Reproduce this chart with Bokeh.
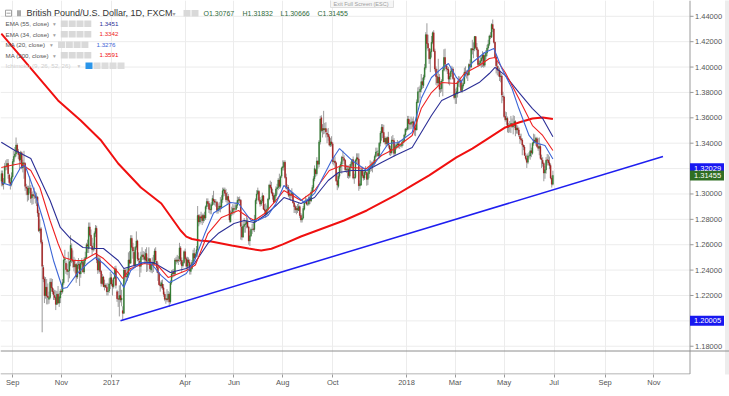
import numpy as np
from bokeh.plotting import figure
from bokeh.models import Range1d, FixedTicker, Span, ColumnDataSource
from bokeh.core.properties import value
from bokeh.embed import file_html
from bokeh.resources import INLINE

# ---------------- daily GBP/USD candles (price x 10000), 18 Aug 2016 .. 29 Jun 2018 ----------------
open_pips = [
    13100, 13160, 13075, 13087, 13220, 13215, 13240, 13150, 13090, 13075,
    13135, 13255, 13295, 13315, 13385, 13335, 13310, 13270, 13325, 13205, 13245, 13240, 13055, 13045, 12995, 13045, 13045, 12970, 12995, 12985, 12985, 12970,
    12975, 12850, 12710, 12725, 12620, 12420, 12330, 12200, 12265, 12195, 12170, 12185, 12305, 12260, 12230, 12200, 12185, 12130, 12210, 12140, 12180,
    12235, 12230, 12300, 12480, 12455, 12405, 12390, 12395, 12465, 12570, 12480, 12470, 12425, 12445, 12345, 12440, 12445, 12370, 12455, 12460, 12385, 12475,
    12500, 12600, 12570, 12740, 12675, 12590, 12560, 12575, 12690, 12730, 12480, 12400, 12480, 12390, 12295, 12345, 12270, 12280, 12265, 12230, 12235, 12290,
    12340, 12290, 12270, 12335, 12410, 12230, 12175, 12170, 12200, 12165, 12080, 12060, 12400, 12350, 12345, 12360, 12480, 12455, 12650, 12580, 12540, 12435,
    12580, 12630, 12490, 12470, 12430, 12505, 12520, 12505, 12480, 12530, 12470, 12470, 12490, 12400, 12445, 12455, 12450, 12550, 12470, 12420,
    12380, 12285, 12275, 12290, 12260, 12210, 12170, 12175, 12170, 12210, 12150, 12300, 12370, 12385, 12370, 12480, 12470, 12480, 12490, 12575, 12475, 12435, 12460,
    12545, 12490, 12430, 12480, 12460, 12390, 12410, 12460, 12530, 12495, 12525, 12560, 12830, 12780, 12820, 12830, 12790, 12830, 12810, 12900,
    12940, 12925, 12880, 12875, 12915, 12960, 12945, 12935, 12935, 12870, 12880, 12905, 12895, 12955, 13025, 13030, 13005, 12955, 12980, 12945, 12780, 12845, 12855,
    12885, 12880, 12880, 12910, 12950, 12955, 12950, 12740, 12660, 12745, 12760, 12765, 12780, 12740, 12630, 12670, 12720, 12725, 12720, 12800, 12950, 13000,
    13020, 12950, 12920, 12945, 12985, 12880, 12870, 12840, 12880, 12960, 13070, 13050, 13010, 12985, 12935, 12985, 13040, 13050, 13110, 13060, 13140,
    13205, 13215, 13250, 13130, 13040, 13050, 12990, 12995, 12990, 13005, 12930, 12900, 12875, 12885, 12870, 12900, 12830, 12795, 12810, 12880, 12935, 12945, 12920,
    12920, 12970, 12945, 13015, 13050, 13120, 13190, 13160, 13260, 13235, 13410, 13600, 13500, 13515, 13505, 13515, 13480, 13470, 13450, 13385, 13410,
    13395, 13255, 13260, 13245, 13105, 13060, 13140, 13210, 13235, 13290, 13280, 13265, 13190, 13195, 13195, 13140, 13210, 13235, 13270, 13125, 13130, 13265,
    13285, 13275, 13065, 13070, 13190, 13145, 13125, 13170, 13170, 13115, 13160, 13205, 13215, 13215, 13240, 13240, 13295, 13330, 13320, 13300, 13400, 13480,
    13525, 13485, 13410, 13440, 13395, 13445, 13380, 13355, 13325, 13425, 13420, 13320, 13375, 13385, 13395, 13385, 13380, 13380, 13405, 13420, 13465,
    13505, 13510, 13590, 13555, 13550, 13560, 13570, 13530, 13520, 13505, 13720, 13805, 13805, 13825, 13885, 13855, 13920, 13995, 14255, 14185, 14145, 14065, 14120,
    14195, 14270, 14125, 13985, 13925, 13875, 13920, 13830, 13830, 13890, 13975, 14075, 14020, 13985, 13980, 13905, 13925, 13965, 13985, 13910,
    13760, 13790, 13790, 13880, 13885, 13895, 13815, 13850, 13870, 13960, 13955, 13950, 13940, 14020, 14000, 14145, 14135, 14145, 14240, 14155, 14135, 14020,
    14030, 14050, 14070, 14095, 14015, 14085, 14110, 14150, 14180, 14245, 14235, 14335, 14300, 14195, 14080, 14005, 13975, 13975, 13925, 13930, 13770,
    13765, 13610, 13585, 13595, 13525, 13540, 13545, 13555, 13530, 13540, 13570, 13505, 13520, 13505, 13455, 13435, 13425, 13385, 13370, 13300, 13280, 13250, 13300,
    13300, 13340, 13320, 13400, 13425, 13410, 13435, 13375, 13360, 13375, 13280, 13265, 13240, 13165, 13190, 13270, 13265, 13245, 13225, 13125, 13077,
]
high_pips = [
    13185, 13185, 13125, 13245, 13265, 13275, 13275, 13160, 13125, 13170,
    13275, 13340, 13370, 13445, 13400, 13355, 13330, 13340, 13335, 13270, 13340, 13250, 13080, 13065, 13065, 13140, 13070, 13015, 13025, 13050, 13020, 13010,
    12985, 12875, 12800, 12740, 12640, 12440, 12350, 12345, 12330, 12295, 12230, 12335, 12335, 12330, 12255, 12245, 12240, 12235, 12275, 12220, 12250,
    12290, 12330, 12505, 12560, 12475, 12450, 12545, 12475, 12675, 12610, 12555, 12505, 12490, 12455, 12470, 12495, 12470, 12470, 12495, 12480, 12500, 12545,
    12615, 12640, 12775, 12775, 12720, 12655, 12615, 12705, 12755, 12750, 12515, 12510, 12500, 12400, 12370, 12355, 12325, 12295, 12295, 12300, 12335, 12385,
    12370, 12325, 12345, 12430, 12435, 12245, 12235, 12280, 12300, 12245, 12115, 12415, 12410, 12410, 12420, 12540, 12550, 12675, 12675, 12615, 12560, 12590,
    12705, 12640, 12540, 12495, 12545, 12580, 12550, 12545, 12565, 12580, 12500, 12580, 12495, 12475, 12500, 12520, 12570, 12580, 12475, 12460,
    12380, 12310, 12320, 12325, 12290, 12230, 12210, 12250, 12235, 12225, 12320, 12400, 12405, 12410, 12495, 12505, 12520, 12510, 12615, 12590, 12500, 12480, 12555,
    12570, 12505, 12505, 12500, 12485, 12445, 12480, 12560, 12575, 12540, 12590, 12905, 12840, 12840, 12860, 12845, 12845, 12860, 12910, 12965,
    12965, 12945, 12925, 12935, 12990, 13025, 12960, 12960, 12945, 12925, 12935, 12975, 12990, 13050, 13050, 13050, 13040, 13015, 13000, 12955, 12870, 12900, 12920,
    12910, 12930, 12935, 12980, 12975, 12980, 12960, 12760, 12785, 12810, 12790, 12820, 12810, 12750, 12710, 12735, 12765, 12780, 12835, 12965, 13030, 13050,
    13030, 12975, 12960, 13010, 12990, 12920, 12925, 12910, 12970, 13080, 13105, 13095, 13040, 13010, 13005, 13060, 13080, 13125, 13160, 13145, 13215,
    13265, 13265, 13265, 13160, 13075, 13070, 13030, 13030, 13045, 13010, 12935, 12915, 12905, 12920, 12930, 12910, 12850, 12840, 12905, 12950, 12985, 12965, 12960,
    12990, 12990, 13030, 13070, 13140, 13225, 13200, 13290, 13265, 13425, 13615, 13620, 13550, 13655, 13560, 13565, 13510, 13520, 13470, 13440, 13455,
    13410, 13285, 13295, 13255, 13160, 13165, 13225, 13255, 13300, 13340, 13305, 13275, 13230, 13225, 13225, 13235, 13255, 13275, 13295, 13160, 13275, 13320,
    13320, 13320, 13105, 13200, 13215, 13190, 13185, 13220, 13170, 13215, 13220, 13265, 13255, 13255, 13270, 13310, 13365, 13365, 13345, 13410, 13495, 13550,
    13550, 13545, 13455, 13445, 13455, 13490, 13390, 13380, 13455, 13465, 13440, 13395, 13400, 13425, 13415, 13420, 13395, 13420, 13435, 13475, 13520,
    13525, 13615, 13615, 13585, 13610, 13595, 13610, 13570, 13540, 13745, 13840, 13845, 13855, 13945, 13915, 13940, 14025, 14275, 14345, 14255, 14150, 14145, 14245,
    14280, 14290, 14145, 14005, 13985, 14065, 13945, 13890, 13905, 14005, 14140, 14145, 14020, 14010, 14000, 13955, 13990, 14010, 14000, 13920,
    13830, 13840, 13895, 13930, 13925, 13905, 13880, 13905, 13995, 14005, 13975, 13975, 14030, 14060, 14150, 14215, 14195, 14245, 14245, 14190, 14145, 14050,
    14085, 14085, 14125, 14115, 14100, 14135, 14175, 14215, 14255, 14275, 14345, 14375, 14305, 14200, 14090, 14045, 14010, 13995, 13965, 13945, 13805,
    13775, 13650, 13645, 13610, 13560, 13575, 13615, 13595, 13620, 13615, 13580, 13545, 13540, 13525, 13475, 13475, 13440, 13390, 13385, 13325, 13310, 13320, 13330,
    13400, 13365, 13410, 13475, 13470, 13450, 13450, 13440, 13445, 13395, 13310, 13290, 13250, 13220, 13290, 13315, 13310, 13295, 13240, 13145, 13183,
]
low_pips = [
    13060, 13060, 13035, 13080, 13185, 13190, 13120, 13070, 13035, 13060,
    13120, 13225, 13280, 13295, 13320, 13275, 13195, 13240, 13195, 13170, 13120, 13025, 12990, 12940, 12950, 13005, 12930, 12915, 12920, 12960, 12925, 12905,
    12820, 12700, 12690, 12605, 11910, 12305, 12140, 12175, 12130, 12130, 12135, 12170, 12230, 12210, 12165, 12165, 12085, 12125, 12135, 12110, 12140,
    12205, 12215, 12285, 12455, 12370, 12360, 12305, 12335, 12430, 12455, 12420, 12390, 12375, 12300, 12330, 12410, 12275, 12340, 12440, 12380, 12370, 12450,
    12495, 12535, 12535, 12660, 12590, 12515, 12545, 12555, 12660, 12455, 12370, 12380, 12370, 12270, 12285, 12265, 12240, 12260, 12200, 12200, 12220, 12250,
    12275, 12200, 12255, 12330, 12255, 12150, 12110, 12035, 12145, 12115, 12000, 12055, 12300, 12305, 12315, 12340, 12410, 12450, 12560, 12490, 12415, 12420,
    12560, 12470, 12450, 12345, 12380, 12480, 12480, 12460, 12460, 12385, 12390, 12460, 12385, 12380, 12375, 12385, 12440, 12460, 12380, 12315,
    12280, 12230, 12255, 12245, 12190, 12155, 12135, 12150, 12145, 12110, 12135, 12285, 12340, 12345, 12355, 12445, 12455, 12440, 12465, 12445, 12380, 12420, 12450,
    12475, 12405, 12400, 12430, 12365, 12365, 12405, 12440, 12470, 12490, 12505, 12505, 12745, 12760, 12770, 12755, 12770, 12785, 12795, 12880,
    12900, 12850, 12840, 12840, 12905, 12915, 12910, 12900, 12845, 12845, 12860, 12855, 12880, 12930, 12980, 12985, 12935, 12915, 12930, 12775, 12775, 12825, 12835,
    12840, 12855, 12870, 12890, 12925, 12930, 12640, 12635, 12655, 12695, 12695, 12730, 12730, 12600, 12590, 12660, 12685, 12705, 12700, 12785, 12920, 12990,
    12935, 12900, 12905, 12930, 12875, 12825, 12810, 12835, 12865, 12950, 13035, 13000, 12955, 12925, 12935, 12970, 12995, 13030, 13040, 13045, 13125,
    13185, 13185, 13120, 13035, 13005, 12975, 12960, 12945, 12970, 12925, 12850, 12850, 12840, 12850, 12865, 12810, 12775, 12775, 12800, 12870, 12925, 12910, 12905,
    12910, 12920, 12935, 12995, 13020, 13100, 13135, 13145, 13200, 13210, 13390, 13485, 13445, 13470, 13475, 13445, 13400, 13420, 13375, 13370, 13375,
    13235, 13225, 13205, 13095, 13030, 13045, 13120, 13175, 13160, 13255, 13235, 13175, 13165, 13125, 13120, 13125, 13185, 13220, 13115, 13080, 13120, 13240,
    13240, 13025, 13040, 13065, 13130, 13105, 13110, 13150, 13065, 13070, 13125, 13175, 13180, 13170, 13220, 13220, 13285, 13300, 13290, 13280, 13375, 13420,
    13440, 13405, 13390, 13375, 13380, 13365, 13305, 13300, 13310, 13395, 13295, 13305, 13350, 13360, 13360, 13355, 13370, 13365, 13380, 13405, 13450,
    13490, 13500, 13505, 13510, 13510, 13515, 13510, 13460, 13455, 13500, 13715, 13720, 13755, 13800, 13830, 13835, 13900, 13980, 14140, 14125, 14025, 13960, 14075,
    14180, 14120, 13965, 13860, 13850, 13855, 13765, 13795, 13805, 13770, 13965, 14000, 13965, 13945, 13865, 13855, 13900, 13945, 13900, 13745,
    13710, 13710, 13760, 13845, 13840, 13800, 13795, 13830, 13865, 13925, 13910, 13890, 13935, 13975, 13990, 14100, 14070, 14125, 14140, 14080, 14000, 14010,
    14005, 13995, 14000, 13995, 14000, 14060, 14085, 14130, 14165, 14220, 14230, 14275, 14185, 14070, 13950, 13935, 13925, 13890, 13880, 13715, 13735,
    13600, 13570, 13545, 13485, 13480, 13485, 13480, 13520, 13470, 13520, 13455, 13475, 13475, 13450, 13395, 13415, 13305, 13345, 13300, 13265, 13205, 13235, 13280,
    13270, 13290, 13310, 13380, 13400, 13380, 13365, 13340, 13305, 13270, 13205, 13215, 13100, 13120, 13160, 13225, 13225, 13195, 13115, 13050, 13067,
]
close_pips = [
    13160, 13075, 13087, 13220, 13215, 13240, 13160, 13090, 13075, 13135,
    13255, 13295, 13315, 13385, 13335, 13310, 13265, 13325, 13205, 13245, 13240, 13060, 13045, 12995, 13045, 13045, 12965, 12995, 12985, 12985, 12970, 12975,
    12850, 12710, 12725, 12620, 12430, 12330, 12200, 12265, 12195, 12185, 12185, 12305, 12260, 12230, 12205, 12185, 12130, 12210, 12140, 12190, 12235,
    12230, 12300, 12480, 12490, 12405, 12390, 12395, 12465, 12595, 12480, 12470, 12425, 12445, 12345, 12440, 12445, 12370, 12455, 12475, 12385, 12475, 12500,
    12600, 12590, 12740, 12675, 12590, 12560, 12565, 12690, 12730, 12480, 12400, 12490, 12390, 12295, 12345, 12270, 12280, 12265, 12230, 12235, 12290, 12340,
    12290, 12270, 12335, 12410, 12280, 12175, 12170, 12200, 12165, 12180, 12060, 12400, 12350, 12345, 12370, 12480, 12455, 12650, 12580, 12550, 12435, 12580,
    12630, 12490, 12480, 12430, 12505, 12520, 12505, 12485, 12530, 12470, 12470, 12490, 12410, 12445, 12455, 12450, 12550, 12480, 12420, 12380,
    12285, 12275, 12300, 12260, 12210, 12170, 12175, 12165, 12210, 12150, 12300, 12370, 12380, 12370, 12480, 12470, 12480, 12475, 12575, 12475, 12435, 12460, 12545,
    12490, 12430, 12480, 12460, 12395, 12410, 12460, 12530, 12495, 12525, 12560, 12830, 12780, 12820, 12810, 12790, 12830, 12810, 12900, 12940,
    12925, 12880, 12875, 12915, 12965, 12945, 12935, 12935, 12870, 12885, 12905, 12895, 12955, 13025, 13035, 13005, 12955, 12980, 12945, 12795, 12845, 12855, 12885,
    12880, 12880, 12910, 12950, 12955, 12950, 12745, 12660, 12745, 12760, 12765, 12785, 12740, 12630, 12670, 12720, 12720, 12720, 12800, 12950, 13000, 13025,
    12950, 12920, 12945, 12985, 12880, 12870, 12840, 12880, 12960, 13070, 13050, 13010, 12985, 12935, 12990, 13040, 13050, 13110, 13060, 13135, 13205,
    13215, 13250, 13130, 13045, 13050, 12990, 12995, 12990, 13010, 12930, 12900, 12875, 12885, 12875, 12900, 12830, 12795, 12810, 12885, 12935, 12945, 12920, 12920,
    12970, 12945, 13015, 13050, 13120, 13200, 13160, 13260, 13235, 13410, 13590, 13500, 13515, 13505, 13515, 13490, 13470, 13450, 13385, 13410, 13395,
    13255, 13260, 13245, 13105, 13070, 13140, 13210, 13235, 13290, 13285, 13265, 13190, 13195, 13195, 13145, 13210, 13235, 13270, 13125, 13130, 13265, 13285,
    13275, 13065, 13080, 13190, 13145, 13125, 13170, 13190, 13115, 13160, 13205, 13215, 13225, 13240, 13240, 13295, 13330, 13333, 13300, 13400, 13480, 13525,
    13485, 13410, 13440, 13395, 13445, 13385, 13355, 13325, 13425, 13420, 13320, 13375, 13385, 13395, 13385, 13385, 13380, 13405, 13420, 13465, 13510,
    13510, 13590, 13555, 13550, 13565, 13570, 13530, 13520, 13505, 13725, 13805, 13805, 13825, 13885, 13860, 13920, 13995, 14255, 14185, 14150, 14065, 14120, 14195,
    14270, 14125, 13985, 13925, 13875, 13920, 13825, 13830, 13890, 13975, 14075, 14025, 13985, 13980, 13905, 13925, 13965, 13985, 13910, 13760,
    13790, 13805, 13880, 13885, 13895, 13815, 13855, 13870, 13960, 13955, 13950, 13935, 14020, 14000, 14145, 14135, 14140, 14240, 14155, 14135, 14020, 14030,
    14050, 14070, 14095, 14015, 14090, 14110, 14150, 14180, 14245, 14240, 14335, 14300, 14195, 14080, 14010, 13975, 13975, 13925, 13930, 13780, 13765,
    13610, 13585, 13595, 13525, 13540, 13545, 13555, 13530, 13540, 13570, 13505, 13520, 13505, 13465, 13435, 13425, 13385, 13370, 13305, 13280, 13250, 13300, 13300,
    13340, 13325, 13400, 13425, 13410, 13440, 13375, 13360, 13375, 13280, 13270, 13240, 13165, 13190, 13265, 13265, 13245, 13225, 13125, 13077, 13146,
]

# ---------------- indicator lines (bar index, price) ----------------
ema55_bar = [0, 12, 26, 34, 43, 52, 61, 72, 83, 90, 103, 108, 117, 126, 134, 143, 149, 163, 170, 182, 191, 205, 214, 223, 232,
             242, 249, 264, 276, 288, 297, 309, 322, 335, 347, 362, 370, 379, 388, 401, 408, 421, 430, 435, 444, 456, 468, 477, 486]
ema55_val = [1.3408, 1.3343, 1.3279, 1.3122, 1.2949, 1.2736, 1.2649, 1.2578, 1.2570, 1.2570, 1.2476, 1.2413, 1.2436, 1.2460,
             1.2460, 1.2413, 1.2381, 1.2413, 1.2450, 1.2610, 1.2688, 1.2767, 1.2791, 1.2775, 1.2830, 1.2909, 1.2972, 1.2925,
             1.2972, 1.3106, 1.3169, 1.3185, 1.3185, 1.3248, 1.3303, 1.3366, 1.3485, 1.3618, 1.3736, 1.3792, 1.3815, 1.3878,
             1.3949, 1.3997, 1.3934, 1.3800, 1.3673, 1.3594, 1.3451]
ema34_bar = [0, 8, 17, 26, 34, 43, 50, 55, 64, 72, 83, 90, 103, 107, 114, 126, 138, 147, 152, 163, 171, 182, 194, 209, 218, 223,
             232, 242, 249, 264, 276, 289, 300, 309, 322, 335, 347, 362, 370, 379, 388, 401, 408, 421, 430, 435, 444, 456, 468, 477, 486]
ema34_val = [1.3209, 1.3224, 1.3240, 1.3185, 1.3051, 1.2791, 1.2610, 1.2499, 1.2476, 1.2476, 1.2531, 1.2491, 1.2381, 1.2334,
             1.2413, 1.2452, 1.2436, 1.2342, 1.2357, 1.2397, 1.2440, 1.2688, 1.2815, 1.2870, 1.2815, 1.2791, 1.2846, 1.2949,
             1.3027, 1.2949, 1.3027, 1.3185, 1.3224, 1.3209, 1.3201, 1.3303, 1.3358, 1.3461, 1.3673, 1.3799, 1.3878, 1.3870,
             1.3949, 1.4012, 1.4067, 1.4075, 1.3957, 1.3752, 1.3539, 1.3461, 1.3342]
ma20_bar = [0, 8, 17, 21, 28, 37, 46, 54, 58, 67, 76, 83, 90, 103, 108, 114, 123, 132, 141, 148, 152, 163, 170, 179, 187, 202,
            209, 220, 226, 235, 242, 249, 267, 276, 291, 298, 309, 322, 329, 341, 350, 362, 370, 379, 388, 394, 401, 405, 415,
            426, 434, 441, 450, 456, 465, 470, 479, 486]
ma20_val = [1.3090, 1.3067, 1.3209, 1.3224, 1.3051, 1.2791, 1.2476, 1.2255, 1.2263, 1.2374, 1.2452, 1.2499, 1.2452, 1.2334,
            1.2263, 1.2397, 1.2460, 1.2452, 1.2357, 1.2302, 1.2318, 1.2373, 1.2470, 1.2680, 1.2850, 1.2933, 1.2925, 1.2791,
            1.2791, 1.2830, 1.2925, 1.3067, 1.2933, 1.3004, 1.3264, 1.3358, 1.3264, 1.3185, 1.3240, 1.3398, 1.3406, 1.3485,
            1.3752, 1.3918, 1.3989, 1.4028, 1.3918, 1.3878, 1.4036, 1.4115, 1.4146, 1.3989, 1.3831, 1.3673, 1.3461, 1.3406,
            1.3382, 1.3276]
ma200_bar = [0, 50, 70, 88, 103, 123, 141, 158, 163, 168, 175, 185, 203, 218, 229, 238, 248, 264, 302, 322, 347, 362, 377,
             401, 415, 426, 444, 456, 468, 477, 486]
ma200_val = [1.4264, 1.3737, 1.3579, 1.3421, 1.3240, 1.3051, 1.2925, 1.2712, 1.2664, 1.2645, 1.2633, 1.2625, 1.2594, 1.2570,
             1.2554, 1.2568, 1.2603, 1.2665, 1.2791, 1.2870, 1.2988, 1.3067, 1.3146, 1.3288, 1.3358, 1.3421, 1.3524, 1.3563,
             1.3595, 1.3603, 1.3591]
trend_bar = [105, 583]
trend_val = [1.20005, 1.3295]

# ---------------- scales / legend texts ----------------
tick_bars = [10, 53, 97, 162, 205, 248, 292, 357, 400, 443, 487, 532, 575]
tick_labels = ["Sep", "Nov", "2017", "Apr", "Jun", "Aug", "Oct", "2018", "Mar", "May", "Jul", "Sep", "Nov"]
price_ticks = [1.18, 1.20, 1.22, 1.24, 1.26, 1.28, 1.30, 1.32, 1.34, 1.36, 1.38, 1.40, 1.42, 1.44]
title_text = "British Pound/U.S. Dollar, 1D, FXCM"
ohlc_text = ["O1.30767", "H1.31832", "L1.30666", "C1.31455"]
study_names = ["EMA (55, close)", "EMA (34, close)", "MA (20, close)", "MA (200, close)"]
study_values = ["1.3451", "1.3342", "1.3276", "1.3591"]
hidden_study = "Ichimoku (9, 26, 52, 26)"
tooltip_text = "Exit Full Screen (ESC)"
marker_prices = [1.32029, 1.31455, 1.20005]
marker_texts = ["1.32029", "1.31455", "1.20005"]

assert len(open_pips) == len(high_pips) == len(low_pips) == len(close_pips)

# ---------------- colours ----------------
UP, DOWN, WICK = "#2a7a2a", "#a51717", "#9c9c9c"
C_EMA55, C_EMA34, C_MA20, C_MA200, C_TREND = "#2c2f96", "#ee2222", "#3d66d6", "#f01010", "#1e1ef0"
study_colors = [C_EMA55, C_EMA34, C_MA20, C_MA200]
marker_colors = ["#1818f0", "#2f6e23", "#1818f0"]
FONT = "Liberation Sans"
AXIS_GREY = "#9a9a9a"

# ---------------- layout helpers (pixels inside the frame -> data) ----------------
FW, FH = 729, 374
X0, X1 = -0.705, 641.6
Y1 = 1.45245
Y0 = Y1 - FH * 0.000788
def fx(px):
    return X0 + px * (X1 - X0) / FW
def fy(py):
    return Y1 - py * (Y1 - Y0) / FH

p = figure(width=729, height=396, output_backend="svg", toolbar_location=None,
           x_range=Range1d(X0, X1), y_range=Range1d(Y0, Y1),
           x_axis_location="below", y_axis_location=None,
           min_border_left=0, min_border_top=0, min_border_right=0, min_border_bottom=22)
p.outline_line_color = None
p.background_fill_color = "white"
p.border_fill_color = "white"

# vertical grid through the library's grid, horizontal grid only over the price pane
p.xgrid.ticker = FixedTicker(ticks=tick_bars)
p.xgrid.grid_line_color = "#ececec"
p.ygrid.visible = False
p.segment(x0=[fx(0)] * len(price_ticks), y0=price_ticks, x1=[fx(689.5)] * len(price_ticks), y1=price_ticks,
          line_color="#ececec", line_width=1)

# time axis
xa = p.xaxis[0]
xa.ticker = FixedTicker(ticks=tick_bars)
xa.major_label_overrides = {b: t for b, t in zip(tick_bars, tick_labels)}
xa.axis_line_color = None
xa.major_tick_line_color = AXIS_GREY
xa.major_tick_out = 3
xa.major_tick_in = 0
xa.minor_tick_line_color = None
xa.major_label_standoff = 0
xa.major_label_text_font = FONT
xa.major_label_text_font_size = "7.5px"
xa.major_label_text_color = "#555555"

# window edge strip on the far right
p.quad(left=[fx(724.5)], right=[fx(740)], bottom=[Y0 - 1], top=[Y1 + 1], fill_color="#ededed", line_color=None)

# lower empty pane: separator and bottom border
p.add_layout(Span(location=fy(350.5), dimension="width", line_color="#8e8e8e", line_width=1))
p.segment(x0=[fx(0)], y0=[fy(373.5)], x1=[fx(689.5)], y1=[fy(373.5)], line_color=AXIS_GREY, line_width=1)

# candles
o = np.array(open_pips) / 10000.0
h = np.array(high_pips) / 10000.0
l = np.array(low_pips) / 10000.0
c = np.array(close_pips) / 10000.0
bars = np.arange(len(c))
cols = np.where(c >= o, UP, DOWN)
src = ColumnDataSource(dict(x=bars, hi=h, lo=l, top=np.maximum(o, c), bot=np.minimum(o, c), col=cols))
p.segment(x0="x", y0="lo", x1="x", y1="hi", source=src, line_color=WICK, line_width=1)
p.vbar(x="x", width=0.7, top="top", bottom="bot", fill_color="col", line_color="col", line_width=0.5, source=src)

# indicator lines
p.line(ma200_bar, ma200_val, line_color=C_MA200, line_width=2.0)
p.line(ema55_bar, ema55_val, line_color=C_EMA55, line_width=1.1)
p.line(ema34_bar, ema34_val, line_color=C_EMA34, line_width=1.1)
p.line(ma20_bar, ma20_val, line_color=C_MA20, line_width=1.1)
p.line(trend_bar, trend_val, line_color=C_TREND, line_width=1.5)

# ---------------- price scale on the right ----------------
p.segment(x0=[fx(689.5)], y0=[fy(0)], x1=[fx(689.5)], y1=[fy(373.5)], line_color=AXIS_GREY, line_width=1)
p.segment(x0=[fx(689.5)] * len(price_ticks), y0=price_ticks, x1=[fx(693)] * len(price_ticks), y1=price_ticks,
          line_color=AXIS_GREY, line_width=1)
p.text(x=[fx(694.5)] * len(price_ticks), y=price_ticks, text=["%.5f" % t for t in price_ticks],
       text_font=value(FONT), text_font_size=value("7.5px"), text_color="#555555",
       text_baseline="middle", text_align="left")
p.rect(x=[fx(706.5)] * len(marker_prices), y=marker_prices, width=34, height=10,
       width_units="screen", height_units="screen", fill_color=marker_colors, line_color=None)
p.text(x=[fx(693.5)] * len(marker_prices), y=marker_prices, text=marker_texts,
       text_font=value(FONT), text_font_size=value("7.5px"), text_color="white",
       text_baseline="middle", text_align="left")

# ---------------- legend (inside the chart, top-left) ----------------
def add_text(px, py, txt, size, color, font=FONT, style="normal"):
    p.text(x=[fx(px)], y=[fy(py)], text=[txt], text_font=value(font), text_font_size=value(size),
           text_font_style=style, text_color=color, text_baseline="middle", text_align="left")

def add_boxes(centers, py, colors):
    p.rect(x=[fx(cx) for cx in centers], y=[fy(py)] * len(centers), width=7, height=6.5,
           width_units="screen", height_units="screen", fill_color=colors, line_color=None)

# full-screen tooltip at the top edge
p.quad(left=[fx(330)], right=[fx(393)], bottom=[fy(7)], top=[fy(-2)], fill_color="#f6f6f6", line_color="#dedede")
add_text(333, 3.3, tooltip_text, "5.5px", "#a0a0a0")

row1 = 12.7
p.rect(x=[fx(8)], y=[fy(row1)], width=6, height=6, width_units="screen", height_units="screen",
       fill_color="white", line_color="#8a8a8a", line_width=0.8)
p.segment(x0=[fx(6)], y0=[fy(row1)], x1=[fx(10)], y1=[fy(row1)], line_color="#8a8a8a", line_width=0.8)
p.rect(x=[fx(18.5)], y=[fy(row1)], width=4, height=6, width_units="screen", height_units="screen",
       fill_color="#a8a8a8", line_color=None)
add_text(26, row1, title_text, "9px", "#333333")
add_text(172, row1 + 0.3, "\u25be", "6px", "#a0a0a0", font="DejaVu Sans")
add_boxes([186.5, 194.5], row1, ["#d9d9d9", "#d9d9d9"])
for xo, t in zip([203, 242, 280, 317], ohlc_text):
    add_text(xo, row1, t, "7px", "#2f6b3a")

rows = [23.3, 33.7, 44.3, 54.7]
box_sets = [[63.8, 71.7, 79.5, 87.3], [63.8, 71.7, 79.5, 87.3], [61.0, 68.8, 76.6, 84.4], [63.8, 71.7, 79.5, 87.3]]
val_x = [99, 99, 96, 99]
arrow_x = [52.5, 52.5, 49.5, 52.5]
for ry, name, val, colr, bx, vx, ax in zip(rows, study_names, study_values, study_colors, box_sets, val_x, arrow_x):
    add_text(5, ry, name, "6.2px", "#555555")
    add_text(ax, ry + 0.3, "\u25be", "5.5px", "#a0a0a0", font="DejaVu Sans")
    add_boxes(bx, ry, ["#d9d9d9"] * 4)
    add_text(vx, ry, val, "6.2px", colr)
row6 = 65.3
add_text(5, row6, hidden_study, "6.2px", "#cfcfcf")
add_text(77, row6 + 0.3, "\u25be", "5.5px", "#c8c8c8", font="DejaVu Sans")
add_boxes([88.5, 96.5, 104.5, 112.5, 120.5], row6, ["#2b95e9", "#dcdcdc", "#dcdcdc", "#dcdcdc", "#dcdcdc"])

open("out.html", "w").write(file_html(p, INLINE))
